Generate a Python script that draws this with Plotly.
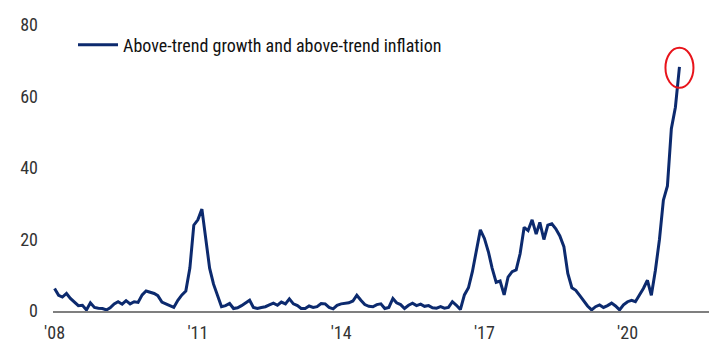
import pandas as pd
import plotly.graph_objects as go

# Monthly share (%), Jan 2008 - Feb 2021
start_month = "2008-01-01"
series_name = "Above-trend growth and above-trend inflation"
values = [
    # 2008
    6.3, 4.4, 3.9, 4.9, 3.5, 2.6, 1.5, 1.6, 0.3, 2.3, 1.0, 0.8,
    # 2009
    0.7, 0.3, 0.9, 2.0, 2.6, 1.9, 2.9, 2.0, 2.6, 2.4, 4.5, 5.6,
    # 2010
    5.3, 4.9, 4.3, 2.5, 2.0, 1.6, 1.0, 3.0, 4.5, 5.6, 12.0, 24.0,
    # 2011
    25.5, 28.5, 21.0, 12.0, 7.5, 4.5, 1.2, 1.5, 2.1, 0.7, 0.9, 1.5,
    # 2012
    2.2, 3.0, 1.0, 0.7, 1.0, 1.2, 1.7, 2.2, 1.6, 2.5, 2.0, 3.4,
    # 2013
    2.0, 1.5, 0.7, 0.7, 1.4, 1.0, 1.2, 2.1, 2.0, 1.0, 0.6, 1.6,
    # 2014
    2.0, 2.2, 2.3, 2.8, 4.4, 3.0, 1.8, 1.3, 1.2, 1.8, 2.0, 0.7,
    # 2015
    1.0, 3.5, 2.3, 1.8, 0.7, 1.6, 2.2, 1.5, 1.9, 1.3, 1.5, 0.9,
    # 2016
    0.8, 1.2, 0.8, 1.0, 2.6, 1.6, 0.4, 4.5, 6.5, 11.0, 17.0, 22.7,
    # 2017
    20.3, 16.5, 12.0, 8.0, 8.4, 4.5, 9.5, 11.0, 11.5, 16.0, 23.4, 22.5,
    # 2018
    25.5, 21.5, 24.8, 20.0, 24.0, 24.4, 23.0, 21.0, 18.0, 10.5, 6.5, 5.8,
    # 2019
    4.3, 2.6, 1.4, 0.3, 1.2, 1.7, 1.0, 1.5, 2.2, 1.4, 0.3, 1.7,
    # 2020
    2.6, 3.0, 2.6, 4.5, 6.3, 8.6, 4.4, 11.4, 20.0, 31.0, 35.0, 51.0,
    # 2021
    57.0, 68.3,
]
dates = pd.date_range(start_month, periods=len(values), freq="MS")

tick_dates = ["2008-01-01", "2011-01-01", "2014-01-01", "2017-01-01", "2020-01-01"]
tick_labels = ["'08", "'11", "'14", "'17", "'20"]
y_ticks = [0, 20, 40, 60, 80]

FONT = "Liberation Sans Narrow, Roboto Condensed, Arial Narrow, Liberation Sans, sans-serif"
NAVY = "#0c2a6e"

fig = go.Figure()
fig.add_trace(go.Scatter(
    x=dates, y=values, mode="lines", name=series_name,
    line=dict(color=NAVY, width=3),
))

# red circle highlighting the latest reading
fig.add_shape(
    type="circle", xref="x", yref="y",
    xsizemode="pixel", ysizemode="pixel",
    xanchor=dates[-1], yanchor=values[-1],
    x0=-14, x1=14, y0=-21, y1=19,
    line=dict(color="#e8141b", width=2),
)

fig.update_layout(
    width=704, height=344,
    margin=dict(l=45, r=3, t=17, b=41),
    paper_bgcolor="white", plot_bgcolor="white",
    font=dict(family=FONT, size=18, color="#222222"),
    showlegend=True,
    legend=dict(
        x=0.0305, y=0.93, xanchor="left", yanchor="middle",
        bgcolor="rgba(0,0,0,0)", font=dict(size=18, color="#111111"),
        itemwidth=40,
    ),
    xaxis=dict(
        range=["2007-12-20", "2021-09-15"],
        tickvals=tick_dates, ticktext=tick_labels,
        showgrid=False, zeroline=False,
        showline=True, linecolor="#7f7f7f", linewidth=2,
        ticks="", ticklabelstandoff=4,
        tickfont=dict(size=18, color="#333333"),
    ),
    yaxis=dict(
        range=[0, 80], tickvals=y_ticks,
        showgrid=False, zeroline=False, showline=False,
        ticks="", ticklabelstandoff=14,
        tickfont=dict(size=18, color="#333333"),
    ),
)

fig.write_html("out.html")
